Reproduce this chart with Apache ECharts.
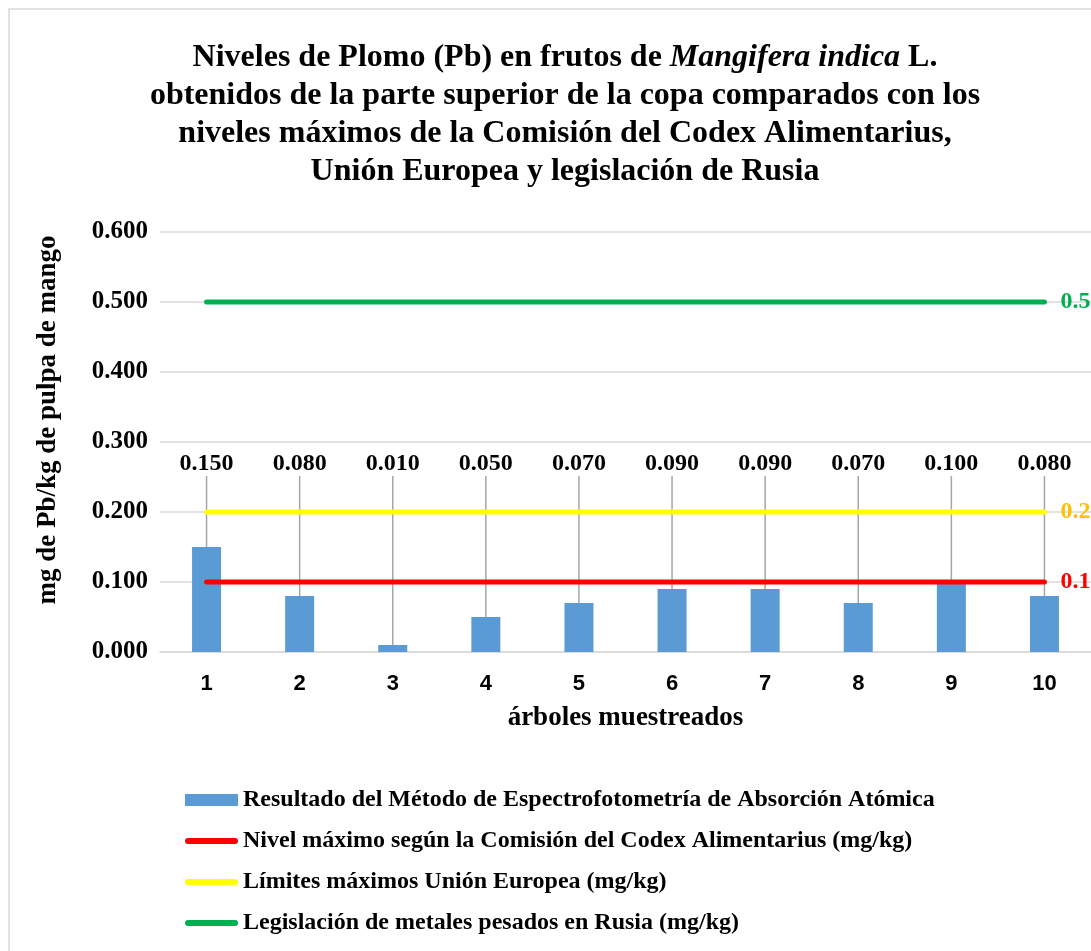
<!DOCTYPE html>
<html>
<head>
<meta charset="utf-8">
<script src="https://cdn.jsdelivr.net/npm/echarts@6/dist/echarts.min.js"></script>
<style>
  html, body { margin: 0; padding: 0; background: #fff; }
  #chart { width: 1091px; height: 951px; }
</style>
</head>
<body>
<div id="chart"></div>
<script>
const arboles = ["1", "2", "3", "4", "5", "6", "7", "8", "9", "10"]
const resultadoAA = [0.150, 0.080, 0.010, 0.050, 0.070, 0.090, 0.090, 0.070, 0.100, 0.080]
const codex = [0.1, 0.1, 0.1, 0.1, 0.1, 0.1, 0.1, 0.1, 0.1, 0.1]
const unionEuropea = [0.2, 0.2, 0.2, 0.2, 0.2, 0.2, 0.2, 0.2, 0.2, 0.2]
const rusia = [0.5, 0.5, 0.5, 0.5, 0.5, 0.5, 0.5, 0.5, 0.5, 0.5]

const serif = "'Liberation Serif', 'Times New Roman', serif"
// flat rounded line icon for the legend (no symbol dot)
const lineIcon = "path://M3,0H50A3,3 0 0 1 50,6H3A3,3 0 0 1 3,0Z"

const chart = echarts.init(document.getElementById("chart"))

const limitLine = (name, data, color, labelColor) => ({
  name: name,
  type: "line",
  data: data,
  symbol: "none",
  z: 5,
  lineStyle: { color: color, width: 5, cap: "round" },
  itemStyle: { color: color },
  endLabel: {
    show: true,
    distance: 16,
    formatter: (p) => p.value.toFixed(3),
    color: labelColor,
    fontFamily: serif,
    fontWeight: "bold",
    fontSize: 24
  }
})

const option = {
  animation: false,
  backgroundColor: "#fff",
  graphic: [
    {
      type: "rect",
      shape: { x: 9, y: 9, width: 1200, height: 1200 },
      style: { fill: "none", stroke: "#d9d9d9", lineWidth: 1.5 },
      silent: true
    }
  ],
  title: {
    text: "Niveles de Plomo (Pb) en frutos de {i|Mangifera indica} L.\nobtenidos de la parte superior de la copa comparados con los\nniveles máximos de la Comisión del Codex Alimentarius,\nUnión Europea y legislación de Rusia",
    left: 560,
    top: 34,
    textAlign: "center",
    textStyle: {
      fontFamily: serif,
      fontWeight: "bold",
      fontSize: 32,
      lineHeight: 38,
      color: "#000",
      rich: {
        i: { fontFamily: serif, fontWeight: "bold", fontStyle: "italic", fontSize: 32, lineHeight: 38, color: "#000" }
      }
    }
  },
  legend: {
    orient: "vertical",
    left: 180,
    top: 783,
    itemWidth: 53,
    itemHeight: 12,
    itemGap: 17,
    textStyle: { fontFamily: serif, fontWeight: "bold", fontSize: 24, color: "#000" },
    data: [
      { name: "Resultado del Método de Espectrofotometría de Absorción Atómica", icon: "rect" },
      { name: "Nivel máximo según la Comisión del Codex Alimentarius (mg/kg)", icon: lineIcon },
      { name: "Límites máximos Unión Europea (mg/kg)", icon: lineIcon },
      { name: "Legislación de metales pesados en Rusia (mg/kg)", icon: lineIcon }
    ]
  },
  grid: {
    left: 160,
    right: -5,
    top: 232,
    bottom: 299
  },
  xAxis: {
    type: "category",
    data: arboles,
    name: "árboles muestreados",
    nameLocation: "middle",
    nameGap: 53,
    nameTextStyle: { fontFamily: serif, fontWeight: "bold", fontSize: 27, color: "#000" },
    axisLine: { lineStyle: { color: "#d9d9d9", width: 1.5 } },
    axisTick: { show: false },
    axisLabel: {
      margin: 21,
      fontFamily: "'Liberation Sans', Arial, sans-serif",
      fontWeight: "bold",
      fontSize: 22,
      color: "#000"
    }
  },
  yAxis: {
    type: "value",
    min: 0,
    max: 0.6,
    interval: 0.1,
    name: "mg de Pb/kg de pulpa de mango",
    nameLocation: "middle",
    nameGap: 98,
    nameTextStyle: { fontFamily: serif, fontWeight: "bold", fontSize: 27, color: "#000", padding: [0, 0, 0, 44] },
    axisLine: { show: false },
    axisTick: { show: false },
    axisLabel: {
      margin: 12,
      formatter: (v) => v.toFixed(3),
      fontFamily: serif,
      fontWeight: "bold",
      fontSize: 25,
      color: "#000"
    },
    splitLine: { lineStyle: { color: "#d9d9d9", width: 1.5 } }
  },
  series: [
    {
      name: "Resultado del Método de Espectrofotometría de Absorción Atómica",
      type: "bar",
      data: resultadoAA,
      barWidth: 29,
      itemStyle: { color: "#5b9bd5" },
      label: {
        show: true,
        position: "top",
        formatter: (p) => p.value.toFixed(3),
        fontFamily: serif,
        fontWeight: "bold",
        fontSize: 24,
        color: "#000"
      },
      labelLayout: (params) => ({
        x: params.rect.x + params.rect.width / 2,
        y: 464,
        align: "center",
        verticalAlign: "middle"
      }),
      labelLine: {
        show: true,
        length2: 0,
        lineStyle: { color: "#a6a6a6", width: 1.5 }
      }
    },
    limitLine("Nivel máximo según la Comisión del Codex Alimentarius (mg/kg)", codex, "#ff0000", "#ff0000"),
    limitLine("Límites máximos Unión Europea (mg/kg)", unionEuropea, "#ffff00", "#ffc000"),
    limitLine("Legislación de metales pesados en Rusia (mg/kg)", rusia, "#00b050", "#00b050")
  ]
}

chart.setOption(option)
</script>
</body>
</html>
